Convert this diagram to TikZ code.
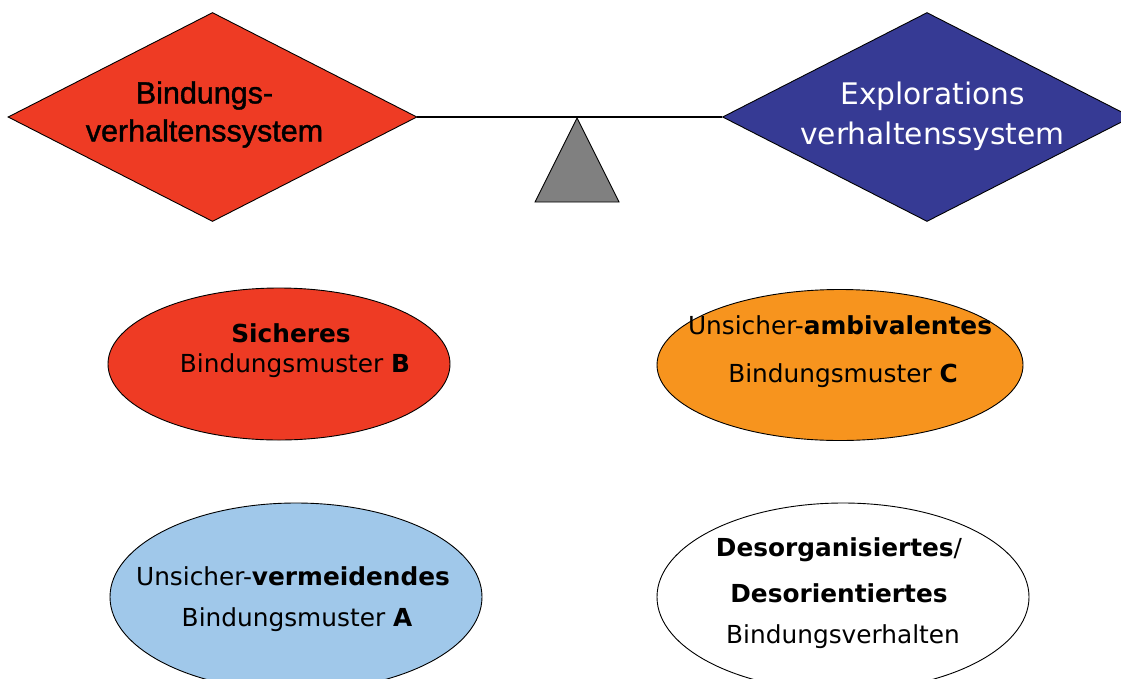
\documentclass[tikz,border=0pt]{standalone}
\usepackage{fontspec}
\setmainfont{DejaVu Sans}
\newfontfamily\arialf[FakeBold=1.3]{Liberation Sans}
\usetikzlibrary{shapes.geometric}
\definecolor{cred}{HTML}{EE3B24}
\definecolor{corange}{HTML}{F7941E}
\definecolor{cblue}{HTML}{363A94}
\definecolor{clblue}{HTML}{A0C8EA}
\definecolor{cgray}{HTML}{808080}
\tikzset{
  dia/.style={diamond, draw=black, line width=0.9pt, inner sep=0pt, minimum width=409pt, minimum height=209pt},
  ell/.style={ellipse, draw=black, line width=0.9pt, inner sep=0pt},
  txt/.style={inner sep=0pt, align=center, font=\fontsize{24.8}{44}\selectfont},
  dtxt/.style={inner sep=0pt, align=center},
}
\begin{document}
\begin{tikzpicture}[x=1pt,y=-1pt]
\useasboundingbox (0,0) rectangle (1121,678);
\clip (0,0) rectangle (1121,678);
% diamonds
\node[dia, fill=cred] (bind) at (212.5,117) {};
\node[dia, fill=cblue] (expl) at (927,117) {};
\node[dtxt, font=\arialf\fontsize{30.5}{38}\selectfont] (bindt) at (204.5,114.5) {Bindungs-\\verhaltenssystem};
\node[dtxt, font=\fontsize{29.7}{40}\selectfont, text=white] (explt) at (932.5,116) {Explorations\\verhaltenssystem};
% seesaw
\draw[line width=1.8pt] (bind.east) -- (expl.west);
\coordinate (apex) at (577,118);
\draw[fill=cgray, line width=0.9pt] (apex) -- (619,202) -- (535,202) -- cycle;
% ellipses
\node[ell, fill=cred, minimum width=342pt, minimum height=152pt] (B) at (279,364) {};
\node[ell, fill=corange, minimum width=366pt, minimum height=151pt] (C) at (840,365) {};
\node[ell, fill=clblue, minimum width=372pt, minimum height=188pt] (A) at (296,597) {};
\node[ell, fill=white, minimum width=372pt, minimum height=188pt] (D) at (843,597) {};
% texts
\node[txt] at (291,333) {\textbf{Sicheres}};
\node[txt] at (295,366) {Bindungsmuster \textbf{B}};
\node[txt] at (840,325) {Unsicher-\textbf{ambivalentes}};
\node[txt] at (843,376) {Bindungsmuster \textbf{C}};
\node[txt] at (293,576) {Unsicher-\textbf{vermeidendes}};
\node[txt] at (297,620) {Bindungsmuster \textbf{A}};
\node[txt] at (839,550) {\textbf{Desorganisiertes}/};
\node[txt] at (839,593) {\textbf{Desorientiertes}};
\node[txt] at (843,637) {Bindungsverhalten};
\end{tikzpicture}
\end{document}
